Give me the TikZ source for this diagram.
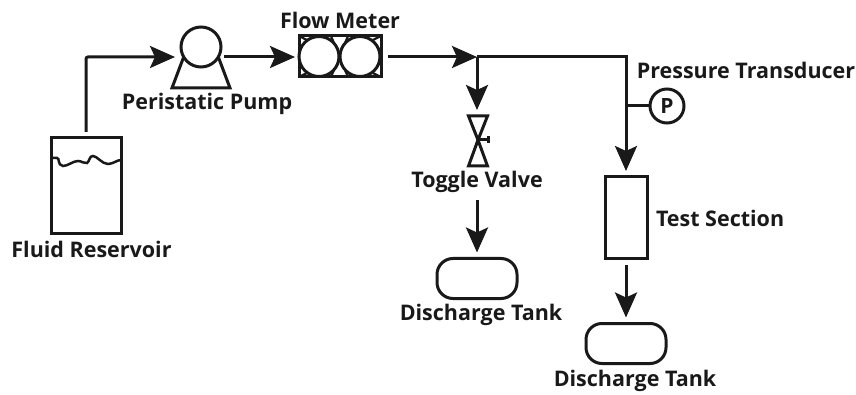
\documentclass[tikz,border=0pt]{standalone}
\usepackage{fontspec}
\setmainfont{Open Sans}
\usetikzlibrary{arrows.meta,positioning,calc}
\tikzstyle{every node}=[inner sep=0pt,outer sep=0pt]
\tikzstyle{part}=[draw=black!90,line width=3pt]
\tikzstyle{roller}=[part,circle,fill=white,minimum size=40pt]
\tikzstyle{tag}=[font=\fontsize{21.5}{21.5}\selectfont\bfseries,text=black!90]
\tikzstyle{tank}=[part,rounded corners=16pt,minimum width=80pt,minimum height=40pt]
\tikzstyle{pipe}=[draw=black!90,line width=3pt]
\tikzstyle{flow}=[pipe,-{Stealth[length=25pt,width=22pt,inset=5pt]}]

\begin{document}
\begin{tikzpicture}[x=1pt,y=-1pt]
      \useasboundingbox (0,0) rectangle (856,395);
      \node [part,minimum width=70pt,minimum height=96pt] (reservoir) at (86,185.5) {};
      \node [tag] (reservoirtag) at (91.5,249) {Fluid Reservoir};
      \draw [part,line width=2.5pt] (reservoir.west |- 0,158) -- (57,158) .. controls (60,158) and (57,165) .. (63,166)
        .. controls (68,166) and (73,161) .. (78,161) .. controls (82,161) and (84,164) .. (87,163)
        .. controls (90,161) and (89,156) .. (93,156) .. controls (97,156) and (102,164) .. (108,164)
        .. controls (113,164) and (117,160) .. (reservoir.east |- 0,160);

      \node [part,circle,minimum size=40pt] (pump) at (201,47) {};
      \draw [part,line join=miter] (pump.-150) -- (172,88) -- (230,88) -- (pump.-30);
      \node [tag] (pumptag) at (207,104) {Peristatic Pump};

      \node [part,minimum width=82pt,minimum height=41pt] (meter) at (340,56.5) {};
      \draw [part,line width=2.2pt] (meter.north west) -- (339.5,56.5) -- (meter.south west)
        (meter.north east) -- (339.5,56.5) -- (meter.south east)
        (331,36) -- (339.5,56.5) -- (348,36)
        (331,77) -- (339.5,56.5) -- (348,77);
      \node [roller] (meterleft) at (319,56.5) {};
      \node [roller] (meterright) at (360,56.5) {};
      \node [tag] (metertag) at (340,20) {Flow Meter};

      \coordinate (reservoirout) at (86,132);
      \coordinate (pumpin) at (175,57);
      \coordinate (pumpout) at (224,57);
      \coordinate (meterin) at (295,57);
      \coordinate (meterout) at (388,57);
      \coordinate (tee) at (477,57);
      \coordinate (valvein) at (477,110);
      \coordinate (corner) at (626,57);
      \coordinate (tap) at (626,106);
      \coordinate (sectionin) at (626,171);

      \draw [flow,rounded corners=2pt] (reservoirout) |- (pumpin);
      \draw [flow] (pumpout) -- (meterin);
      \draw [flow] (meterout) -- (tee);
      \draw [flow] (tee) -- (valvein);
      \draw [pipe] (tee) -- (corner) -- (tap);
      \draw [flow] (tap) -- (sectionin);

      \node [part,circle,minimum size=34pt,tag,font=\fontsize{21}{21}\selectfont\bfseries] (transducer) at (667,106) {P};
      \draw [pipe] (tap) -- (transducer);
      \node [tag] (transducertag) at (746,70) {Pressure Transducer};

      \coordinate (valvetop) at (478,116);
      \coordinate (valvemid) at (478,140);
      \coordinate (valvelow) at (478,166);
      \draw [part,line join=miter] (valvemid) -- ($(valvetop)+(-9.5,0)$) -- ($(valvetop)+(9.5,0)$) -- cycle;
      \draw [part,line join=miter] (valvemid) -- ($(valvelow)+(-9.5,0)$) -- ($(valvelow)+(9.5,0)$) -- cycle;
      \draw [pipe] (valvemid) -- ($(valvemid)+(11,0)$);
      \draw [pipe] ($(valvemid)+(10.5,-4)$) -- ($(valvemid)+(10.5,3)$);
      \node [tag] (valvetag) at (477,182) {Toggle Valve};

      \node [tank] (tankleft) at (477,278.5) {};
      \node [tag] (tanklefttag) at (481,315) {Discharge Tank};
      \coordinate (valveout) at (477,200);
      \draw [flow] (valveout) -- ($(tankleft.north)+(0,-6)$);

      \node [part,minimum width=42pt,minimum height=82pt] (section) at (626,218) {};
      \node [tag,anchor=west] (sectiontag) at (656,218) {Test Section};
      \node [tank] (tankright) at (626,343.5) {};
      \node [tag] (tankrighttag) at (635,381) {Discharge Tank};
      \draw [flow] ($(section.south)+(0,6)$) -- ($(tankright.north)+(0,-6)$);
    \end{tikzpicture}
\end{document}
